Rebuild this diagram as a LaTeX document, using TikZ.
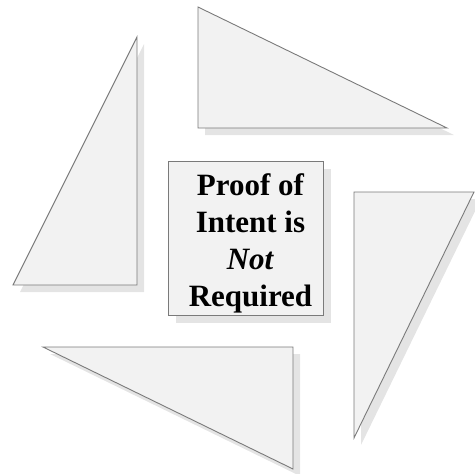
\documentclass[tikz,border=0pt]{standalone}
\usepackage{fontspec}
\setmainfont{Liberation Serif}
\usepackage{tikz}
\usetikzlibrary{positioning,calc}
\definecolor{PanelFill}{HTML}{F2F2F2}
\definecolor{PanelEdge}{HTML}{7A7A7A}
\definecolor{PanelShade}{HTML}{E4E4E4}

\begin{document}
\begin{tikzpicture}[x=1pt,y=-1pt,
  tri/.style={draw=PanelEdge,fill=PanelFill,line width=0.9pt,line join=miter},
  trishade/.style={fill=PanelShade},
  note/.style={draw=PanelEdge,fill=PanelFill,line width=0.9pt,align=center,
    minimum width=155pt,minimum height=154pt,inner sep=0pt,
    font=\bfseries\fontsize{31}{37}\selectfont},
]
\useasboundingbox (0,0) rectangle (475,474);
% four arrow panels
\coordinate (tA1) at (198,7);   \coordinate (tA2) at (198,128); \coordinate (tA3) at (447,128);
\coordinate (tB1) at (137,37);  \coordinate (tB2) at (13,285);  \coordinate (tB3) at (137,285);
\coordinate (tC1) at (354,192); \coordinate (tC2) at (474,192); \coordinate (tC3) at (354,438);
\coordinate (tD1) at (43,347);  \coordinate (tD2) at (293,347); \coordinate (tD3) at (293,469);
\foreach \t in {A,B,C,D}{
  \fill[trishade] ($(t\t1)+(7,7)$) -- ($(t\t2)+(7,7)$) -- ($(t\t3)+(7,7)$) -- cycle;
  \draw[tri] (t\t1) -- (t\t2) -- (t\t3) -- cycle;
}
% centre note
\fill[trishade] (176,169) rectangle (331,323);
\node[note] (intent) at (245.5,238) {};
\node[align=center,inner sep=0pt,font=\bfseries\fontsize{31}{37}\selectfont] (intenttext) at (250.5,243) {Proof of\\Intent is\\\textit{Not}\\Required};
\end{tikzpicture}
\end{document}
